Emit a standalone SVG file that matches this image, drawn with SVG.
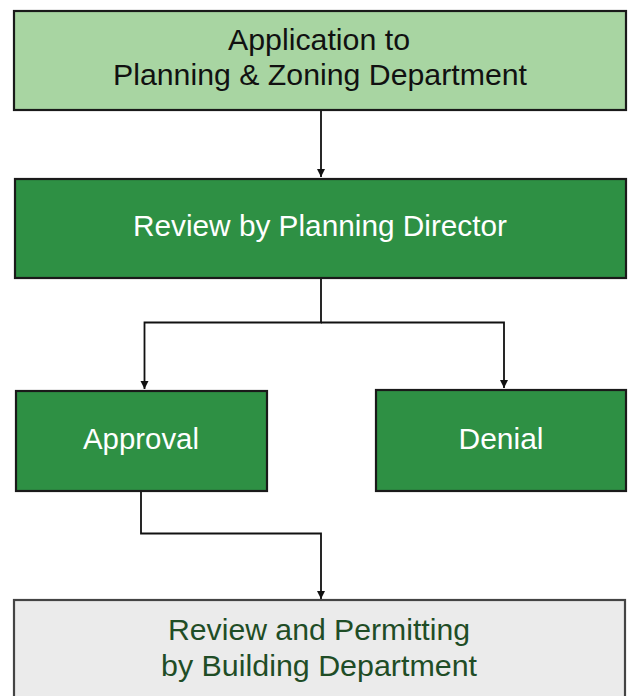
<svg xmlns="http://www.w3.org/2000/svg" width="629" height="696" viewBox="0 0 629 696">
<style>
.box{stroke:#1a1a1a;stroke-width:2.2}
.light{fill:#a8d5a2}
.dark{fill:#2e9044}
.grey{fill:#ebebeb;stroke:#444}
text{font-family:"Liberation Sans",Arial,sans-serif;font-size:30px;text-anchor:middle}
.tb{fill:#111}
.tw{fill:#fff}
.tg{fill:#1f4d26}
.conn{fill:none;stroke:#111;stroke-width:1.8}
</style>
<defs>
<marker id="arr" viewBox="0 0 10 10" refX="10" refY="5" markerWidth="4.5" markerHeight="4.5" orient="auto" markerUnits="strokeWidth">
<path d="M0,0 L10,5 L0,10 z" fill="#111"/>
</marker>
</defs>
<rect width="629" height="696" fill="#fff"/>
<g id="connectors">
<path class="conn" d="M321,111 V177" marker-end="url(#arr)"/>
<path class="conn" d="M321,279 V322.5 H144.5 V389" marker-end="url(#arr)"/>
<path class="conn" d="M321,322.5 H504 V388" marker-end="url(#arr)"/>
<path class="conn" d="M141,492 V533.5 H321 V599" marker-end="url(#arr)"/>
</g>
<g id="n1">
<rect class="box light" x="14" y="11" width="612" height="99"/>
<text class="tb" x="319" y="50" textLength="182" lengthAdjust="spacingAndGlyphs">Application to</text>
<text class="tb" x="320" y="85" textLength="414" lengthAdjust="spacingAndGlyphs">Planning &amp; Zoning Department</text>
</g>
<g id="n2">
<rect class="box dark" x="15" y="179" width="611" height="99"/>
<text class="tw" x="320" y="236" textLength="374" lengthAdjust="spacingAndGlyphs">Review by Planning Director</text>
</g>
<g id="n3">
<rect class="box dark" x="16" y="391" width="251" height="100"/>
<text class="tw" x="141" y="449" textLength="116" lengthAdjust="spacingAndGlyphs">Approval</text>
</g>
<g id="n4">
<rect class="box dark" x="376" y="390" width="250" height="101"/>
<text class="tw" x="501" y="449" textLength="85" lengthAdjust="spacingAndGlyphs">Denial</text>
</g>
<g id="n5">
<rect class="box grey" x="14" y="600" width="611" height="100"/>
<text class="tg" x="319" y="640" textLength="302" lengthAdjust="spacingAndGlyphs">Review and Permitting</text>
<text class="tg" x="319" y="676" textLength="316" lengthAdjust="spacingAndGlyphs">by Building Department</text>
</g>
</svg>
